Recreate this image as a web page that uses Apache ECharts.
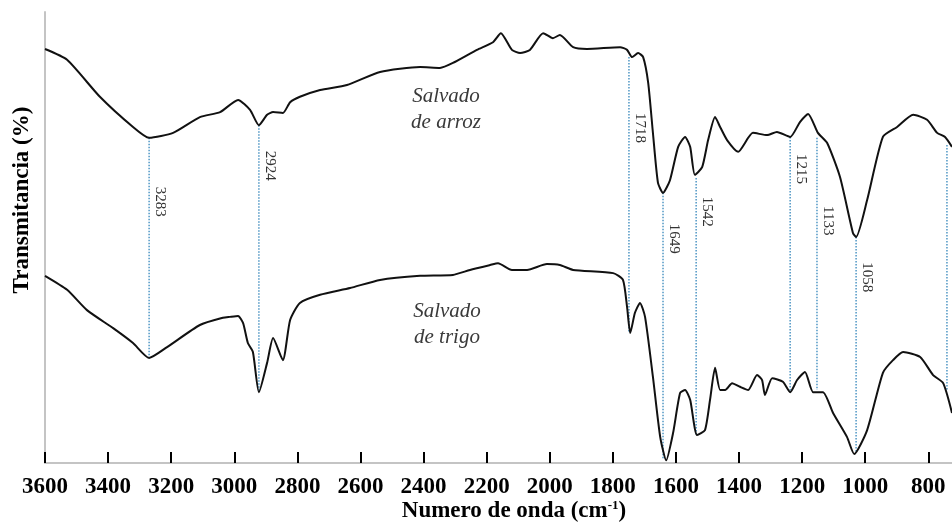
<!DOCTYPE html>
<html>
<head>
<meta charset="utf-8">
<script src="https://cdn.jsdelivr.net/npm/echarts@6/dist/echarts.min.js"></script>
<style>html,body{margin:0;padding:0;background:#fff}#c{width:952px;height:529px}</style>
</head>
<body>
<div id="c"></div>
<script>
// Wavenumber ticks (cm-1)
const tickValues = [3600, 3400, 3200, 3000, 2800, 2600, 2400, 2200, 2000, 1800, 1600, 1400, 1200, 1000, 800];

// Salvado de arroz (upper trace): [wavenumber, transmittance (arb.)]
const arrozWn = [3600,3530,3426,3321,3270,3194,3109,3045,2988,2950,2922,2896,2877,2846,2823,2792,2728,2643,2538,2411,2348,2307,2231,2180,2155,2120,2094,2063,2021,1990,1968,1926,1882,1777,1755,1739,1720,1704,1688,1673,1657,1641,1619,1593,1571,1555,1540,1517,1498,1476,1460,1438,1403,1356,1311,1280,1238,1207,1181,1150,1121,1080,1039,1029,994,944,899,848,804,772,747,725];
const arrozT  = [91.8,89.4,81.2,74.5,72.1,73.2,76.7,77.8,80.5,78.3,74.9,77.2,77.8,77.6,80.0,81.2,82.7,83.8,86.7,87.8,87.6,88.7,91.6,93.3,95.3,91.6,90.9,91.6,95.3,94.2,94.9,92.2,91.8,92.2,91.6,90.0,90.9,90.0,84.3,73.2,62.1,59.9,62.7,70.1,72.3,70.1,63.9,65.6,71.6,76.7,74.5,71.6,69.0,73.2,72.7,73.4,72.3,75.6,77.4,73.2,71.0,63.4,51.0,50.1,58.3,72.3,74.5,77.2,76.1,73.2,72.3,70.1];

// Salvado de trigo (lower trace)
const trigoWn = [3600,3530,3467,3384,3321,3270,3213,3109,3036,3014,2988,2972,2957,2941,2922,2896,2877,2846,2823,2792,2728,2633,2538,2411,2307,2253,2189,2164,2120,2072,2009,1968,1926,1799,1768,1755,1745,1730,1714,1698,1673,1650,1631,1609,1587,1571,1555,1533,1508,1492,1476,1460,1444,1422,1397,1371,1343,1327,1318,1295,1261,1238,1216,1191,1165,1134,1102,1058,1035,994,944,912,880,826,785,753,725];
const trigoT  = [41.5,38.4,33.9,29.9,26.6,23.3,25.7,30.6,32.2,32.4,32.6,31.0,26.6,24.6,15.7,22.2,27.7,22.8,31.7,35.5,37.3,38.8,40.6,41.5,41.7,42.8,43.9,44.3,42.8,42.8,44.1,43.9,42.8,42.1,40.6,34.6,28.8,33.3,35.5,32.4,19.1,5.8,0.6,6.7,15.5,16.2,14.0,6.2,7.3,14.0,21.1,16.2,16.2,17.7,16.9,16.2,19.5,18.4,15.1,18.8,18.0,15.7,18.4,20.2,15.7,15.7,11.1,5.8,2.0,7.3,20.0,22.8,24.6,23.5,19.5,17.7,11.1];

// Marked bands: where the dotted line is drawn, its extent, label height and label text
const peakX      = [3270, 2922, 1749, 1641, 1536, 1238, 1153, 1029, 741];
const peakTop    = [72.1, 74.9, 90.0, 59.9, 63.2, 72.3, 72.1, 50.1, 70.5];
const peakBottom = [23.3, 15.7, 28.8, 0.7, 6.2, 15.7, 16.2, 2.4, 16.2];
const peakLabelY = [57.9, 65.9, 74.3, 49.7, 55.7, 65.2, 53.7, 41.2, 50.0];
const peakLabels = ['3283', '2924', '1718', '1649', '1542', '1215', '1133', '1058', ''];

const seriesNames = ['Salvado de arroz', 'Salvado de trigo'];

const zip = (a, b) => a.map((v, i) => [v, b[i]]);
const peakData = peakX.map((x, i) => [x, peakTop[i], peakBottom[i], peakLabelY[i]]);

const chart = echarts.init(document.getElementById('c'), null, {renderer: 'canvas'});
const serif = '"Liberation Serif", "Times New Roman", serif';

chart.setOption({
  animation: false,
  backgroundColor: '#fff',
  grid: {left: 45, right: 0, top: 12, bottom: 66},
  xAxis: {
    type: 'value', min: 725, max: 3600, inverse: true,
    axisLine: {show: true, lineStyle: {color: '#c4c4c4', width: 2}},
    axisTick: {show: true, inside: true, length: 11, customValues: tickValues, lineStyle: {color: '#000', width: 2}},
    axisLabel: {show: true, customValues: tickValues, margin: 13, color: '#000', fontFamily: serif, fontWeight: 'bold', fontSize: 23,
      formatter: function (v) { return String(v); }},
    splitLine: {show: false}
  },
  yAxis: {
    type: 'value', min: 0, max: 100,
    axisLine: {show: true, lineStyle: {color: '#c4c4c4', width: 2}},
    axisTick: {show: false}, axisLabel: {show: false}, splitLine: {show: false}
  },
  series: [
    {
      type: 'custom', name: 'bands', data: peakData, z: 1,
      encode: {x: 0, y: [1, 2]},
      renderItem: function (params, api) {
        const top = api.coord([api.value(0), api.value(1)]);
        const bot = api.coord([api.value(0), api.value(2)]);
        const lab = api.coord([api.value(0), api.value(3)]);
        const children = [{
          type: 'line',
          shape: {x1: top[0], y1: top[1], x2: bot[0], y2: bot[1]},
          style: {stroke: '#4f96c4', lineWidth: 1.5, lineDash: [1.5, 1.5]}
        }];
        const t = peakLabels[params.dataIndex];
        if (t) {
          children.push({
            type: 'text', x: lab[0] + 11, y: lab[1], rotation: -Math.PI / 2,
            style: {text: t, font: '15px ' + serif, fill: '#333', textAlign: 'center', textVerticalAlign: 'middle'}
          });
        }
        return {type: 'group', children: children};
      }
    },
    {
      type: 'line', name: seriesNames[0], data: zip(arrozWn, arrozT), showSymbol: false, z: 3,
      smooth: 0.2,
      lineStyle: {color: '#111', width: 2}
    },
    {
      type: 'line', name: seriesNames[1], data: zip(trigoWn, trigoT), showSymbol: false, z: 3,
      smooth: 0.2,
      lineStyle: {color: '#111', width: 2}
    }
  ],
  graphic: [
    {type: 'text', x: 22, y: 200, rotation: Math.PI / 2,
     style: {text: 'Transmitancia (%)', font: 'bold 23px ' + serif, fill: '#000', textAlign: 'center', textVerticalAlign: 'middle'}},
    {type: 'text', x: 514, y: 511,
     style: {text: 'Numero de onda (cm{sup|-1})', font: 'bold 23px ' + serif, fill: '#000', textAlign: 'center', textVerticalAlign: 'middle',
       rich: {sup: {fontFamily: serif, fontWeight: 'bold', fontSize: 13, verticalAlign: 'top', padding: [0, 0, 8, 0]}}}},
    {type: 'text', x: 446, y: 109,
     style: {text: 'Salvado\nde arroz', font: 'italic 21px ' + serif, fill: '#3a3a3a', textAlign: 'center', textVerticalAlign: 'middle', lineHeight: 26}},
    {type: 'text', x: 447, y: 324,
     style: {text: 'Salvado\nde trigo', font: 'italic 21px ' + serif, fill: '#3a3a3a', textAlign: 'center', textVerticalAlign: 'middle', lineHeight: 26}}
  ]
});
</script>
</body>
</html>
